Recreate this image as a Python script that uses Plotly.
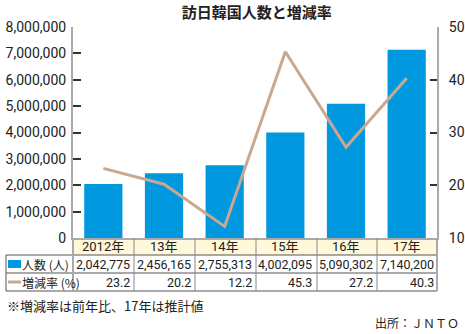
import plotly.graph_objects as go

# ---- data ----
categories = ["2012年", "13年", "14年", "15年", "16年", "17年"]
visitors = [2042775, 2456165, 2755313, 4002095, 5090302, 7140200]
growth = [23.2, 20.2, 12.2, 45.3, 27.2, 40.3]
row_labels = ["人数 (人)", "増減率 (%)"]
title_text = "訪日韓国人数と増減率"
note_text = "※増減率は前年比、17年は推計値"
source_text = "出所：ＪＮＴＯ"

W, H = 465, 334
L, R, T, B = 73, 437, 27, 238  # plot area in pixels
FONT = "Noto Sans CJK JP"
NUMFONT = "Roboto, Noto Sans CJK JP"
BLUE = "#0099E0"
TAN = "#C8A88E"


def px(x):
    return (x - L) / (R - L)


def py(y):
    return (B - y) / (B - T)


fig = go.Figure()
fig.add_trace(go.Bar(x=categories, y=visitors, marker=dict(color=BLUE, line=dict(width=0)),
                     width=0.63, yaxis="y", showlegend=False))
fig.add_trace(go.Scatter(x=categories, y=growth, mode="lines", line=dict(color=TAN, width=3),
                         yaxis="y2", showlegend=False))

fig.update_layout(
    width=W, height=H,
    margin=dict(l=L, r=W - R, t=T, b=H - B, pad=0, autoexpand=False),
    paper_bgcolor="white", plot_bgcolor="white",
    font=dict(family=FONT, size=13, color="#222"),
    title=dict(text="<b>" + title_text + "</b>", x=0.505, xanchor="center", xref="paper",
               y=1 - 13 / H, yanchor="middle", yref="container",
               font=dict(size=15, family=FONT, color="#222")),
    xaxis=dict(type="category", showticklabels=False, ticks="", showgrid=False,
               showline=True, linecolor="#aaa", linewidth=2, zeroline=False,
               range=[-0.5, 5.5], fixedrange=True, automargin=False),
    yaxis=dict(range=[0, 8000000], dtick=1000000, tickformat=",", showgrid=False,
               ticks="inside", ticklen=8, tickcolor="#333", tickwidth=1.5,
               showline=True, linecolor="#aaa", linewidth=2, zeroline=False, automargin=False,
               tickfont=dict(size=14, color="#222", family=NUMFONT), ticklabelstandoff=2),
    yaxis2=dict(range=[10, 50], dtick=10, overlaying="y", side="right", showgrid=False,
                ticks="inside", ticklen=7, tickcolor="#333", tickwidth=1.5,
                showline=True, linecolor="#aaa", linewidth=2, zeroline=False, automargin=False,
                tickfont=dict(size=14, color="#222", family=NUMFONT), ticklabelstandoff=7),
)

shapes = []
# header background
shapes.append(dict(type="rect", xref="paper", yref="paper", x0=px(L), x1=px(R), y0=py(255), y1=py(B),
                   fillcolor="#FFF8DA", line=dict(width=0), layer="below"))
# horizontal lines
for yy in [255, 273, 291]:
    shapes.append(dict(type="line", xref="paper", yref="paper", x0=px(6), x1=px(R), y0=py(yy), y1=py(yy),
                       line=dict(color="#555", width=1)))
# vertical lines
shapes.append(dict(type="line", xref="paper", yref="paper", x0=px(6), x1=px(6), y0=py(255), y1=py(291),
                   line=dict(color="#555", width=1)))
for xx in [134, 195, 256, 317, 377]:
    shapes.append(dict(type="line", xref="paper", yref="paper", x0=px(xx), x1=px(xx), y0=py(B), y1=py(291),
                       line=dict(color="#888", width=1)))
for xx in [L, R]:
    shapes.append(dict(type="line", xref="paper", yref="paper", x0=px(xx), x1=px(xx), y0=py(B), y1=py(291),
                       line=dict(color="#aaa", width=2)))
# legend swatches
shapes.append(dict(type="rect", xref="paper", yref="paper", x0=px(8), x1=px(21), y0=py(268), y1=py(260),
                   fillcolor=BLUE, line=dict(width=0)))
shapes.append(dict(type="line", xref="paper", yref="paper", x0=px(8), x1=px(21), y0=py(282), y1=py(282),
                   line=dict(color=TAN, width=3)))

ann = []
for i, c in enumerate(categories):
    ann.append(dict(x=c, xref="x", y=py(246.5), yref="paper", text=c, showarrow=False,
                    xanchor="center", yanchor="middle", font=dict(size=13, color="#222", family=NUMFONT)))
    ann.append(dict(x=c, xref="x", y=py(264), yref="paper", text=f"{visitors[i]:,}", showarrow=False,
                    xanchor="right", yanchor="middle", xshift=29, font=dict(size=12.5, color="#222", family=NUMFONT)))
    ann.append(dict(x=c, xref="x", y=py(282), yref="paper", text=f"{growth[i]:.1f}", showarrow=False,
                    xanchor="right", yanchor="middle", xshift=29, font=dict(size=12.5, color="#222", family=NUMFONT)))
ann.append(dict(x=px(20), xref="paper", y=py(264), yref="paper", text=row_labels[0], showarrow=False,
                xanchor="left", yanchor="middle", font=dict(size=12, color="#222")))
ann.append(dict(x=px(20), xref="paper", y=py(282), yref="paper", text=row_labels[1], showarrow=False,
                xanchor="left", yanchor="middle", font=dict(size=12, color="#222")))
ann.append(dict(x=px(5), xref="paper", y=py(305), yref="paper", text=note_text, showarrow=False,
                xanchor="left", yanchor="middle", font=dict(size=13, color="#222")))
ann.append(dict(x=px(461), xref="paper", y=py(322), yref="paper", text=source_text, showarrow=False,
                xanchor="right", yanchor="middle", font=dict(size=12, color="#222")))

fig.update_layout(shapes=shapes, annotations=ann)
fig.write_html("out.html")
